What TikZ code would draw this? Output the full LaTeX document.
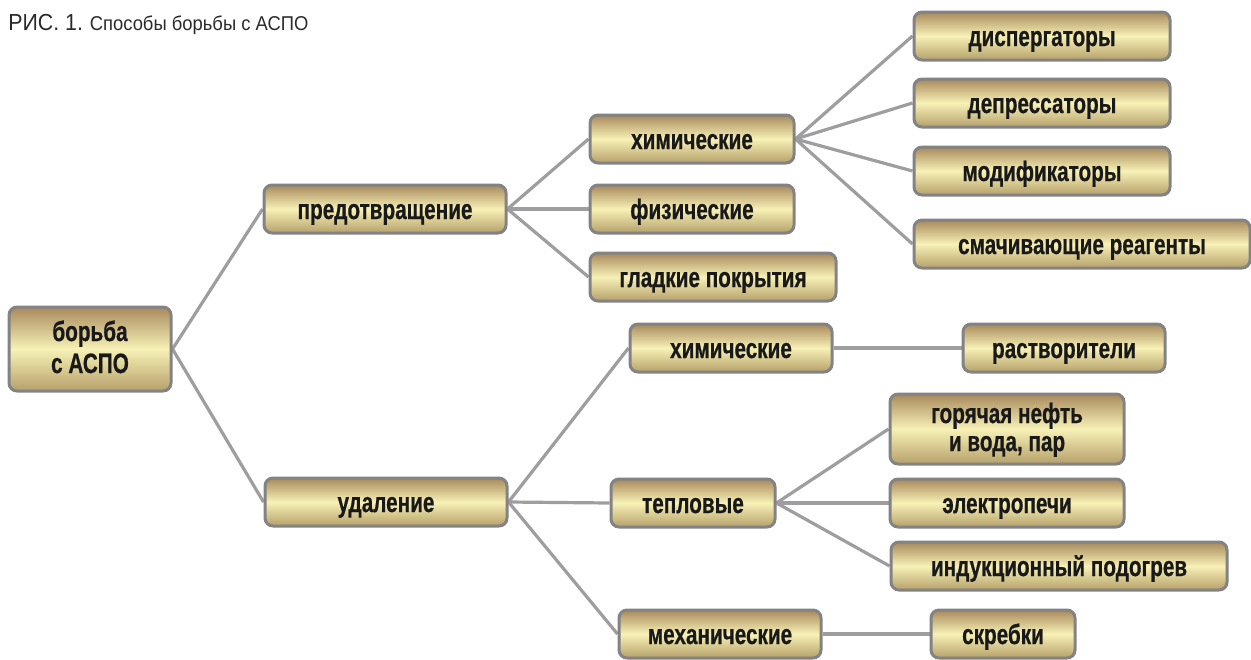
\documentclass[tikz,border=0pt]{standalone}
\usepackage{fontspec}
\setmainfont{Liberation Sans}[FakeStretch=0.74,BoldFeatures={FakeBold=0.6}]
\newfontfamily\capfont{Liberation Sans}[FakeStretch=0.92]
\usepackage{tikz}
\usetikzlibrary{backgrounds}
\usepackage{xcolor}
\definecolor{GoldTop}{HTML}{A8895C}
\definecolor{GoldMid}{HTML}{F7F1B6}
\definecolor{GoldLow}{HTML}{B6A06A}
\definecolor{PlateEdge}{HTML}{838384}
\definecolor{LinkGray}{HTML}{9E9EA0}
\definecolor{CapText}{HTML}{2B2A2A}

\begin{document}
\begin{tikzpicture}[
  x=0.5pt,y=-0.5pt,
  link/.style={draw=LinkGray,line width=1.6pt},
  plate/.style={draw=PlateEdge,line width=1.5pt,rounded corners=4pt,
    top color=GoldTop,bottom color=GoldLow,middle color=GoldMid,
    minimum height=24pt,inner xsep=4pt,inner ysep=2pt,align=center,
    text height=10pt,text depth=0pt,
    font=\bfseries\fontsize{14}{15}\selectfont,text=black!90},
  caption/.style={font=\capfont,text=CapText,anchor=base west,inner sep=0pt}
]
\useasboundingbox (0,0) rectangle (1251,659);

% Figure caption.
\node[caption] (cap) at (8,30)
  {{\fontsize{11.6}{13}\selectfont РИС. 1.} {\fontsize{10}{12}\selectfont Способы борьбы с АСПО}};

% Root and the two main branches.
\node[plate,minimum width=81pt,minimum height=42pt,text height=25pt,text depth=1pt,
  font=\bfseries\fontsize{14}{16}\selectfont] (root) at (90,349)
  {борьба\\с АСПО};
\node[plate,minimum width=121pt] (prev) at (385,209) {предотвращение};
\node[plate,minimum width=121pt] (remv) at (386,502) {удаление};

% Prevention methods.
\node[plate,minimum width=102pt] (pchem) at (692,139) {химические};
\node[plate,minimum width=102pt] (pphys) at (692,209) {физические};
\node[plate,minimum width=123pt] (pcoat) at (713,277) {гладкие покрытия};

% Chemical reagents.
\node[plate,minimum width=128pt] (disp) at (1042,36) {диспергаторы};
\node[plate,minimum width=128pt] (depr) at (1042,103) {депрессаторы};
\node[plate,minimum width=128pt] (modf) at (1042,171) {модификаторы};
\node[plate,minimum width=168pt] (wett) at (1082,244) {смачивающие реагенты};

% Removal methods.
\node[plate,minimum width=101pt] (rchem) at (731,348) {химические};
\node[plate,minimum width=101pt] (solv) at (1064,348) {растворители};
\node[plate,minimum width=82pt] (heat) at (693,503) {тепловые};
\node[plate,minimum width=117pt,minimum height=35pt,text height=23pt,text depth=1pt,
  font=\bfseries\fontsize{14}{14}\selectfont] (hotoil) at (1007,429)
  {горячая нефть\\и вода, пар};
\node[plate,minimum width=117pt] (oven) at (1007,503) {электропечи};
\node[plate,minimum width=168pt] (induc) at (1059,566) {индукционный подогрев};
\node[plate,minimum width=101pt] (mech) at (720,634) {механические};
\node[plate,minimum width=72pt] (scrap) at (1003,634) {скребки};

% Connectors sit behind the plates.
\begin{scope}[on background layer]
\draw[link] (root.east) -- (prev.west);
\draw[link] (root.east) -- (remv.west);
\foreach \kid in {pchem,pphys,pcoat}
  \draw[link] (prev.east) -- (\kid.west);
\foreach \kid in {disp,depr,modf,wett}
  \draw[link] (pchem.east) -- (\kid.west);
\foreach \kid in {rchem,heat,mech}
  \draw[link] (remv.east) -- (\kid.west);
\draw[link] (rchem.east) -- (solv.west);
\foreach \kid in {hotoil,oven,induc}
  \draw[link] (heat.east) -- (\kid.west);
\draw[link] (mech.east) -- (scrap.west);
\end{scope}

\end{tikzpicture}
\end{document}
